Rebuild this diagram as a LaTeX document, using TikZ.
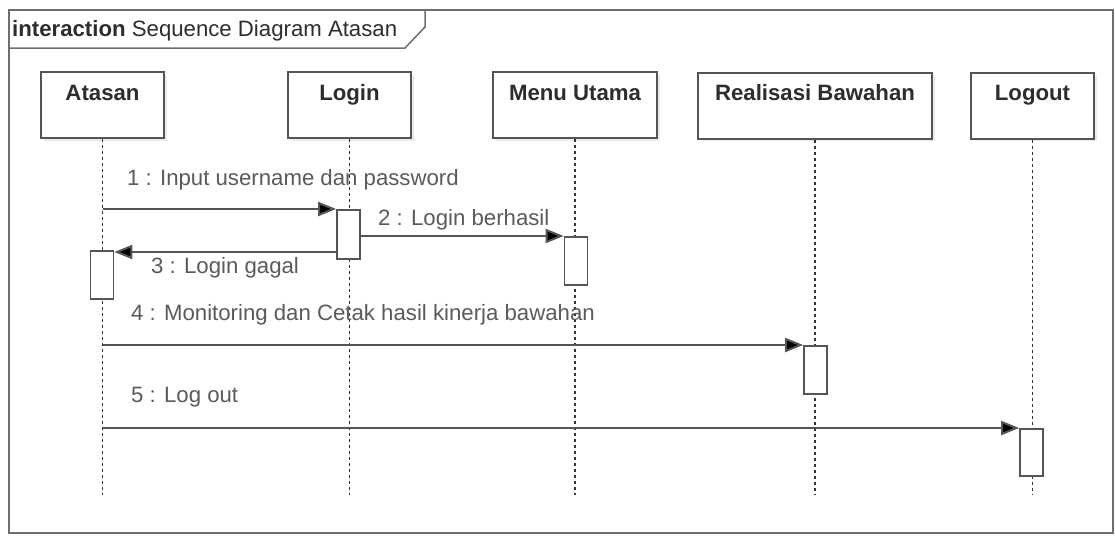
\documentclass[tikz,border=0pt]{standalone}
\usepackage{fontspec}
\setmainfont{Liberation Sans}
\usetikzlibrary{arrows.meta}
\definecolor{lineC}{RGB}{85,85,85}
\definecolor{frameC}{RGB}{110,110,110}
\definecolor{msgtxt}{RGB}{90,90,90}
\definecolor{boxtxt}{RGB}{45,45,45}
\tikzset{
  lbox/.style={draw=lineC, line width=1.6pt, fill=white, minimum width=#1, minimum height=66pt, inner sep=0pt, anchor=north},
  shadowbox/.style={fill=black!8, draw=none, minimum width=#1, minimum height=66pt, inner sep=0pt, anchor=north},
  act/.style={draw=lineC, line width=1.6pt, fill=white, minimum width=23pt, inner sep=0pt, anchor=north},
  lifeline/.style={draw=black!80, line width=1.6pt, dash pattern=on 3pt off 3pt},
  msg/.style={draw=lineC, line width=2pt, -{Triangle[length=18pt,width=14pt,fill=black]}},
  msglabel/.style={font=\fontsize{22.2}{25}\selectfont, text=msgtxt, anchor=base west, inner sep=0pt},
  boxlabel/.style={font=\fontsize{22.2}{25}\selectfont\bfseries, text=boxtxt},
}
\begin{document}
\begin{tikzpicture}[x=1pt,y=-1pt]
\useasboundingbox (0,0) rectangle (1115,536);
% frame
\draw[frameC, line width=1.5pt] (9,10) rectangle (1113,533);
\draw[frameC, line width=1.5pt] (9,48) -- (405,48) -- (425,27) -- (425,10);
\node[font=\fontsize{22.2}{25}\selectfont, text=boxtxt, anchor=base west, inner sep=0pt] (title) at (12,36) {\textbf{interaction} Sequence Diagram Atasan};
% end of lifelines
\coordinate (endl) at (0,495);
% shadows
\foreach \x/\w in {105/123, 352/123, 578/164, 818/234, 1035/123}
  \node[shadowbox=\w] at (\x,75) {};
% lifeline boxes
\node[lbox=123pt, label={[boxlabel, anchor=base, yshift=-29pt]north:Atasan}] (atasan) at (102.5,71) {};
\node[lbox=123pt, label={[boxlabel, anchor=base, yshift=-29pt]north:Login}] (login) at (349.5,71) {};
\node[lbox=164pt, label={[boxlabel, anchor=base, yshift=-29pt]north:Menu Utama}] (menu) at (575,71) {};
\node[lbox=234pt, label={[boxlabel, anchor=base, yshift=-28pt]north:Realisasi Bawahan}] (real) at (815,72) {};
\node[lbox=123pt, label={[boxlabel, anchor=base, yshift=-28pt]north:Logout}] (logout) at (1032.5,72) {};
% lifelines
\foreach \n in {atasan,login,menu,real,logout}
  \draw[lifeline] (\n.south) -- (\n.south |- endl);
% activations
\node[act, minimum height=49pt] (a1) at (348.5,209) {};
\node[act, minimum height=48pt] (a2) at (576,236) {};
\node[act, minimum height=48pt] (a3) at (102,250) {};
\node[act, minimum height=48pt] (a4) at (815.5,345) {};
\node[act, minimum height=47pt] (a5) at (1031.5,428) {};
% messages
\draw[msg] (a1.north west -| atasan) -- (a1.north west);
\node[msglabel] (m1) at (127,185) {1 : Input username dan password};
\draw[msg] (a2.north west -| a1.east) -- (a2.north west);
\node[msglabel] (m2) at (378,225) {2 : Login berhasil};
\draw[msg] ([yshift=-2pt]a1.west |- a3.north east) -- ([yshift=-2pt]a3.north east);
\node[msglabel] (m3) at (151,273) {3 : Login gagal};
\draw[msg] (a4.north west -| atasan) -- (a4.north west);
\node[msglabel] (m4) at (131,320) {4 : Monitoring dan Cetak hasil kinerja bawahan};
\draw[msg] (a5.north west -| atasan) -- (a5.north west);
\node[msglabel] (m5) at (131,402) {5 : Log out};
\end{tikzpicture}
\end{document}
